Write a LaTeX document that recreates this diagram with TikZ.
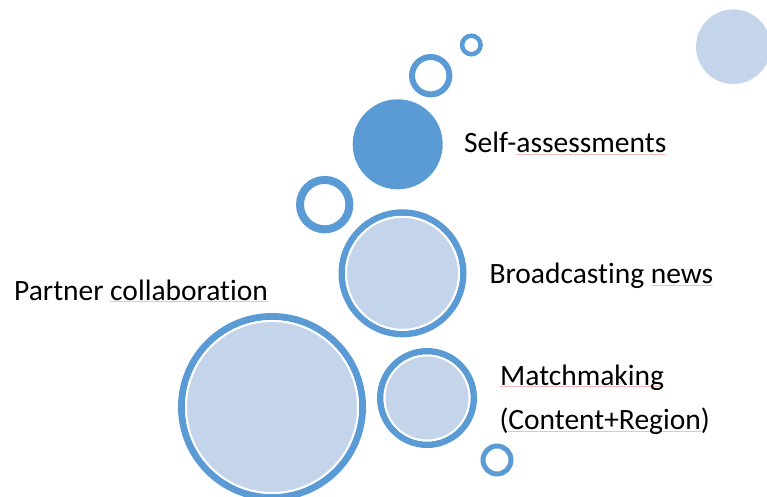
\documentclass[tikz,border=0pt]{standalone}
\usepackage{fontspec}
\setmainfont{Carlito}[Ligatures=NoCommon]
\usetikzlibrary{positioning}

\definecolor{ringblue}{RGB}{91,155,213}
\definecolor{paleblue}{RGB}{196,213,235}
\definecolor{spellred}{RGB}{245,190,190}

% thin spell-check line under a word
\newcommand\spell[1]{\setbox0\hbox{#1}\rlap{\color{spellred}\rule[-2pt]{\wd0}{0.6pt}}\box0}

\begin{document}
\begin{tikzpicture}[x=1pt,y=-1pt]
    \tikzstyle{ring}=[circle, draw=ringblue, inner sep=0pt];
    \tikzstyle{bubble}=[circle, fill=paleblue, draw=white, line width=2pt, inner sep=0pt];
    \tikzstyle{label}=[anchor=base west, inner sep=0pt, font=\fontsize{29.5}{44}\selectfont];
    \useasboundingbox (0,0) rectangle (767,497);

    % large circles with pale inside
    \node[ring, line width=7pt, minimum size=181pt] (partner) at (272,407) {};
    \node[bubble, minimum size=172pt] (partnerin) at (partner) {};
    \node[ring, line width=6.5pt, minimum size=121.5pt] (news) at (402.5,273.3) {};
    \node[bubble, minimum size=113pt] (newsin) at (news) {};
    \node[ring, line width=6.5pt, minimum size=93.5pt] (match) at (427,398) {};
    \node[bubble, minimum size=85pt] (matchin) at (match) {};

    % dark filled circle and plain rings
    \node[circle, fill=ringblue, inner sep=0pt, minimum size=90pt] (self) at (397.7,144.3) {};
    \node[ring, line width=8pt, minimum size=49.4pt] (ringa) at (324.7,204.6) {};
    \node[ring, line width=6pt, minimum size=37.4pt] (ringb) at (430.7,75.7) {};
    \node[ring, line width=4.5pt, minimum size=18.5pt] (ringc) at (471.3,45) {};
    \node[ring, line width=5pt, minimum size=28pt] (ringd) at (497,460) {};
    \node[circle, fill=paleblue, inner sep=0pt, minimum size=74.6pt] (corner) at (733.3,46.7) {};

    % texts
    \node[label] (selftext) at (464,153) {Self-\spell{assessments}};
    \node[label] (newstext) at (489.3,283.3) {Broadcasting \spell{news}};
    \node[label] (matchtext) at (500,385) {\spell{Matchmaking}};
    \node[label] (regiontext) at (499.3,429.3) {(\spell{Content+Region})};
    \node[label] (partnertext) at (14,300) {Partner \spell{collaboration}};
\end{tikzpicture}
\end{document}
